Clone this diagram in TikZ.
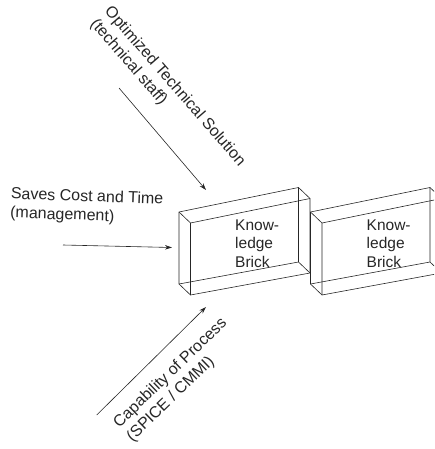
\documentclass[tikz,border=0pt]{standalone}
\usepackage{fontspec}
\setmainfont{Liberation Sans}
\usetikzlibrary{arrows.meta}
\tikzset{
  brickline/.style={draw=black!85, line width=0.6pt, line join=round},
  lbl/.style={font=\fontsize{16}{19}\selectfont, text=black!85, inner sep=0pt, align=left},
  flow/.style={draw=black!85, line width=0.6pt, -{Stealth[length=7pt,width=4.5pt]}},
  brick/.pic={
    % back face
    \draw[brickline] (0,0) -- (119.5,-24.5) -- (119.5,50) -- (0,72) -- cycle;
    % front face
    \draw[brickline] (11.5,11) -- (131,-13.5) -- (131,61) -- (11.5,83) -- cycle;
    % depth edges
    \draw[brickline] (0,0) -- (11.5,11) (119.5,-24.5) -- (131,-13.5)
                     (119.5,50) -- (131,61) (0,72) -- (11.5,83);
    \node[lbl, font=\fontsize{15.5}{18.5}\selectfont, anchor=north west] (-label) at (56,7.3) {Know-\\ledge\\Brick};
  }
}
\begin{document}
\begin{tikzpicture}[x=1pt, y=-1pt]
  \useasboundingbox (0,0) rectangle (434,449);
  \clip (0,0) rectangle (434,449);

  % the two knowledge bricks
  \pic (b1) at (179,212) {brick};
  \pic (b2) at (310.5,212) {brick};

  % benefit labels
  \node[lbl, anchor=north west, rotate=-49] (tech) at (113,4)
    {Optimized Technical Solution\\(technical staff)};
  \node[lbl, anchor=north west, rotate=-2] (mgmt) at (11,187)
    {Saves Cost and Time\\(management)};
  \node[lbl, anchor=north west, rotate=44] (proc) at (111,420)
    {Capability of Process\\(SPICE / CMMI)};

  % arrow end points
  \coordinate (techS) at (119,88);
  \coordinate (techE) at (206,190);
  \coordinate (mgmtS) at (63,245);
  \coordinate (mgmtE) at (172,247.5);
  \coordinate (procS) at (96.7,415);
  \coordinate (procE) at (206,307);

  \draw[flow] (techS) -- (techE);
  \draw[flow] (mgmtS) -- (mgmtE);
  \draw[flow] (procS) -- (procE);
\end{tikzpicture}
\end{document}
